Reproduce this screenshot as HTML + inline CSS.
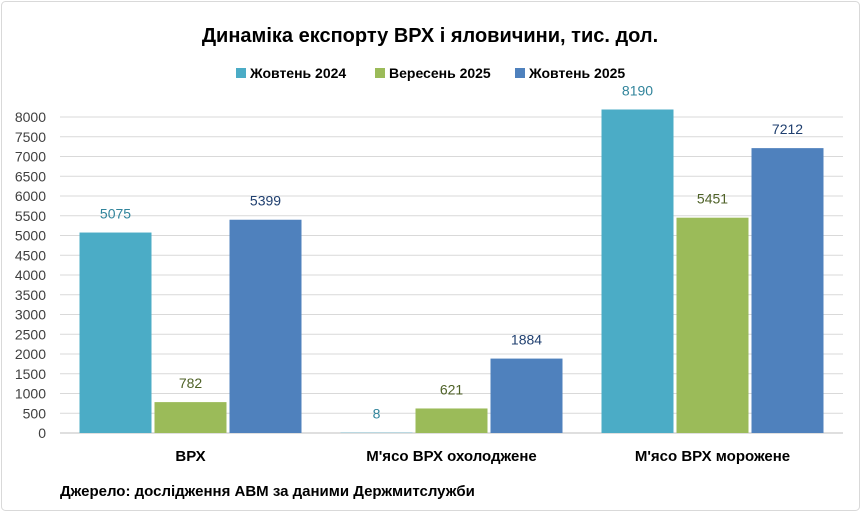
<!DOCTYPE html>
<html><head><meta charset="utf-8"><style>
body{margin:0;background:#fff;font-family:"Liberation Sans","DejaVu Sans",sans-serif}
#c{position:relative;width:861px;height:512px}
</style></head><body>
<div id="c">
<svg id="s" width="861" height="512" xmlns="http://www.w3.org/2000/svg" font-family="Liberation Sans, DejaVu Sans, sans-serif">
<rect x="1.5" y="1.5" width="858" height="509" rx="4" fill="#fff" stroke="#d9d9d9"/>
<text x="430" y="42" text-anchor="middle" font-size="20" font-weight="bold" fill="#000">Динаміка експорту ВРХ і яловичини, тис. дол.</text>
<g id="legend"></g>
<g id="grid"></g><g id="bars"></g>
<text x="60" y="496" font-size="15" font-weight="bold" fill="#000">Джерело: дослідження АВМ за даними Держмитслужби</text>
</svg></div>
<script>
const categories=["ВРХ","М'ясо ВРХ охолоджене","М'ясо ВРХ морожене"];
const seriesNames=["Жовтень 2024","Вересень 2025","Жовтень 2025"];
const oct2024=[5075,8,8190];
const sep2025=[782,621,5451];
const oct2025=[5399,1884,7212];
const ticks=[0,500,1000,1500,2000,2500,3000,3500,4000,4500,5000,5500,6000,6500,7000,7500,8000];
const colors=["#4BACC6","#9BBB59","#4F81BD"],lblColors=["#31849B","#4F6228","#1F3F6F"];
const NS="http://www.w3.org/2000/svg";
const x0=60,x1=843,y0=433,yTop=117,vmax=8000;
const y=v=>y0-(v/vmax)*(y0-yTop);
const cw=(x1-x0)/categories.length;
function mk(t,a,p){const e=document.createElementNS(NS,t);for(const k in a)e.setAttribute(k,a[k]);p.appendChild(e);return e;}
const g=document.getElementById('grid'),b=document.getElementById('bars'),lg=document.getElementById('legend');
ticks.forEach(t=>{
 const l=mk('line',{x1:x0,x2:x1,y1:y(t),y2:y(t),stroke:t===0?'#bfbfbf':'#d9d9d9','stroke-width':1},g);
 
 
 const tx=mk('text',{x:46,y:y(t)+5,'text-anchor':'end','font-size':14,fill:'#404040'},g);
 tx.textContent=t;
 
 
});
const series=[oct2024,sep2025,oct2025];
const bw=72,gap=3;
categories.forEach((c,i)=>{
 const cx=x0+cw*(i+0.5);
 const start=cx-(3*bw+2*gap)/2;
 series.forEach((s,j)=>{
  const bx=start+j*(bw+gap);
  const r=mk('rect',{x:bx,y:y(s[i]),width:bw,height:y0-y(s[i]),fill:colors[j]},b);
  
  
  const t=mk('text',{x:bx+bw/2,y:y(s[i])-14,'text-anchor':'middle','font-size':14,fill:lblColors[j]},b);
  t.textContent=s[i];
  
  
 });
 const ct=mk('text',{x:cx,y:461,'text-anchor':'middle','font-size':15,'font-weight':'bold',fill:'#000'},b);
 ct.textContent=c;
 
 
});
const lx=[236,375,515];
seriesNames.forEach((n,j)=>{
 const r=mk('rect',{x:lx[j],y:68,width:10,height:10,fill:colors[j]},lg);
 
 
 const t=mk('text',{x:lx[j]+14,y:78,'font-size':14,'font-weight':'bold',fill:'#000'},lg);
 t.textContent=n;
 
 
});
</script>
</body></html>
